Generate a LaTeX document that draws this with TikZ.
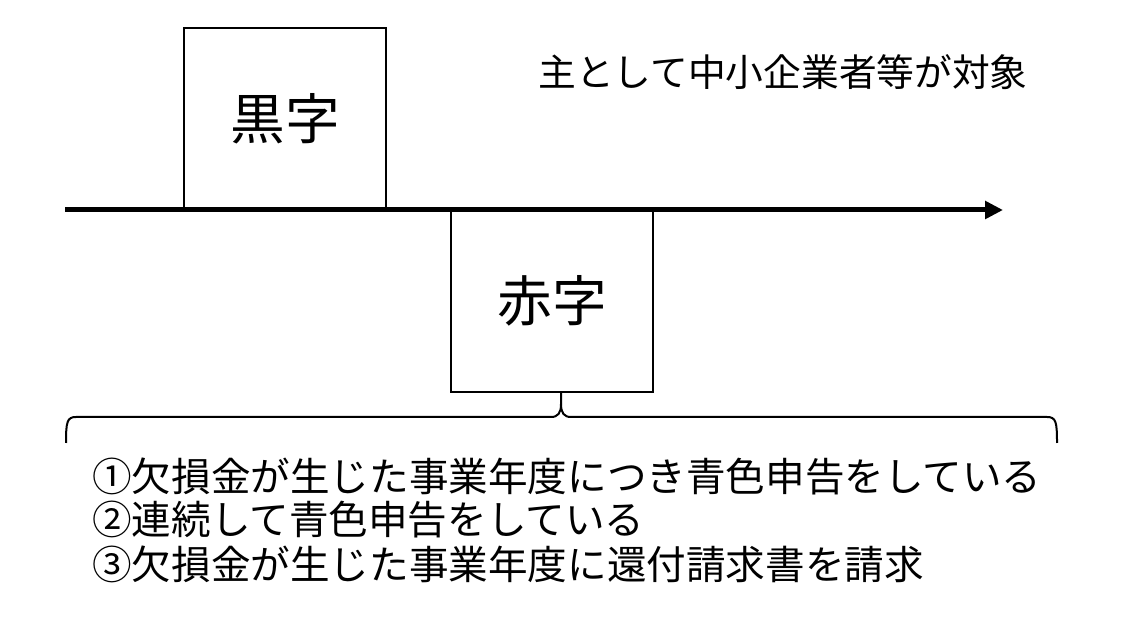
\documentclass[tikz,border=0pt]{standalone}
\usepackage{fontspec}
\newfontfamily\jp{Noto Sans CJK JP}
\usetikzlibrary{arrows.meta}

\begin{document}
\begin{tikzpicture}[x=0.75pt,y=0.75pt,>={Triangle[length=13.5pt,width=13pt]},
  box/.style={draw,line width=1.5pt,minimum width=151.5pt,minimum height=136.5pt,inner sep=0pt,font=\jp\fontsize{41pt}{41pt}\selectfont},
  item/.style={anchor=west,inner sep=0pt,font=\jp\fontsize{29.7pt}{30pt}\selectfont}]
\useasboundingbox (0,0) rectangle (1141,642);
\node[box] (kuro) at (285,523) {黒字};
\node[box] (aka) at (552,341) {赤字};
\coordinate (start) at (65,432);
\coordinate (end) at (1003,432);
\draw[->,line width=3.75pt] (start) -- (end);
\node[anchor=west,inner sep=0pt,font=\jp\fontsize{28.3pt}{29pt}\selectfont] (target) at (538,570) {主として中小企業者等が対象};

% brace below the loss box
\coordinate (bl) at (66,199);
\coordinate (br) at (1057,199);
\coordinate (tip) at (561,250);
\draw[line width=1.5pt,line join=round] (bl) .. controls (66,220) and (67,225) .. (76,225) -- (551,225)
  .. controls (558,225) and (561,229) .. (561,238) -- (tip);
\draw[line width=1.5pt,line join=round] (br) .. controls (1057,220) and (1056,225) .. (1047,225) -- (571,225)
  .. controls (564,225) and (561,229) .. (561,238);

\node[item] (cond1) at (92,166) {①欠損金が生じた事業年度につき青色申告をしている};
\node[item] (cond2) at (92,122) {②連続して青色申告をしている};
\node[item] (cond3) at (92,78) {③欠損金が生じた事業年度に還付請求書を請求};
\end{tikzpicture}
\end{document}
